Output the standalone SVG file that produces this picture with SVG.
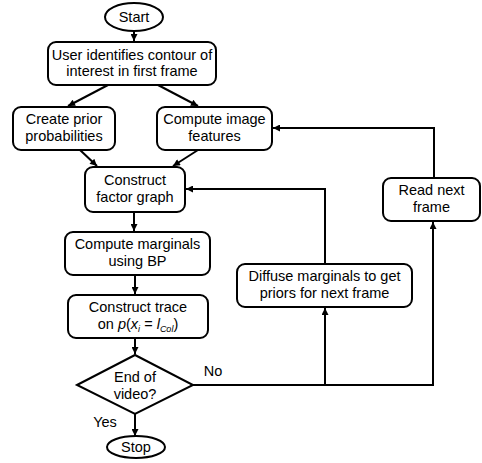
<svg xmlns="http://www.w3.org/2000/svg" width="482" height="463" viewBox="0 0 482 463">
<defs>
<marker id="ah" viewBox="0 0 10 10" refX="10" refY="5" markerWidth="9" markerHeight="7" markerUnits="userSpaceOnUse" orient="auto">
<path d="M0,0 L10,5 L0,10 z" fill="#000"/>
</marker>
</defs>
<style>
.box{fill:#fff;stroke:#000;stroke-width:2}
.t{font-family:"Liberation Sans",Arial,sans-serif;font-size:14.5px;fill:#000;text-anchor:middle}
.c{fill:none;stroke:#000;stroke-width:2}
.a{marker-end:url(#ah)}
</style>
<rect width="482" height="463" fill="#fff"/>
<g id="connectors">
<path class="c a" d="M134,31 L134,41"/>
<path class="c a" d="M108,85 L68,106"/>
<path class="c a" d="M158,85 L198,106"/>
<path class="c a" d="M80,150 L97,166"/>
<path class="c a" d="M198,150 L173,166"/>
<path class="c a" d="M134,212 L134,231"/>
<path class="c a" d="M135,275 L135,294"/>
<path class="c a" d="M135,338 L135,354"/>
<path class="c a" d="M135,414 L135,436"/>
<path class="c a" d="M193,385 L325,385 L325,308"/>
<path class="c a" d="M325,385 L433,385 L433,222"/>
<path class="c a" d="M325,264 L325,189 L186,189"/>
<path class="c a" d="M434,178 L434,128 L273,128"/>
<text class="t" x="213" y="376">No</text>
<text class="t" x="105" y="427">Yes</text>
</g>
<g id="start">
<ellipse class="box" cx="134" cy="17" rx="29" ry="14"/>
<text class="t" x="134" y="22">Start</text>
</g>
<g id="user">
<rect class="box" x="48" y="42" width="168" height="43" rx="8"/>
<text class="t" x="132" y="60">User identifies contour of</text>
<text class="t" x="132" y="76">interest in first frame</text>
</g>
<g id="prior">
<rect class="box" x="13" y="107" width="102" height="43" rx="8"/>
<text class="t" x="64" y="124">Create prior</text>
<text class="t" x="64" y="141">probabilities</text>
</g>
<g id="features">
<rect class="box" x="157" y="107" width="115" height="43" rx="8"/>
<text class="t" x="214.5" y="124">Compute image</text>
<text class="t" x="214.5" y="141">features</text>
</g>
<g id="factor">
<rect class="box" x="85" y="167" width="100" height="45" rx="8"/>
<text class="t" x="135" y="185">Construct</text>
<text class="t" x="135" y="202">factor graph</text>
</g>
<g id="marginals">
<rect class="box" x="65" y="232" width="145" height="43" rx="8"/>
<text class="t" x="137.5" y="249">Compute marginals</text>
<text class="t" x="137.5" y="266">using BP</text>
</g>
<g id="trace">
<rect class="box" x="68" y="295" width="140" height="43" rx="8"/>
<text class="t" x="138" y="312">Construct trace</text>
<text class="t" x="138" y="329">on <tspan font-style="italic">p</tspan>(<tspan font-style="italic">x</tspan><tspan font-size="9" dy="3" font-style="italic">i</tspan><tspan dy="-3"> = </tspan><tspan font-style="italic">l</tspan><tspan font-size="9" dy="3" font-style="italic">Col</tspan><tspan dy="-3">)</tspan></text>
</g>
<g id="decision">
<path class="box" d="M77,385 L135,355 L193,385 L135,414 z"/>
<text class="t" x="135" y="382">End of</text>
<text class="t" x="135" y="399">video?</text>
</g>
<g id="stop">
<ellipse class="box" cx="136" cy="447" rx="29" ry="11"/>
<text class="t" x="136" y="452">Stop</text>
</g>
<g id="diffuse">
<rect class="box" x="237" y="264" width="175" height="43" rx="8"/>
<text class="t" x="324.5" y="281">Diffuse marginals to get</text>
<text class="t" x="324.5" y="298">priors for next frame</text>
</g>
<g id="readnext">
<rect class="box" x="383" y="178" width="97" height="43" rx="8"/>
<text class="t" x="431.5" y="195">Read next</text>
<text class="t" x="431.5" y="212">frame</text>
</g>
</svg>
